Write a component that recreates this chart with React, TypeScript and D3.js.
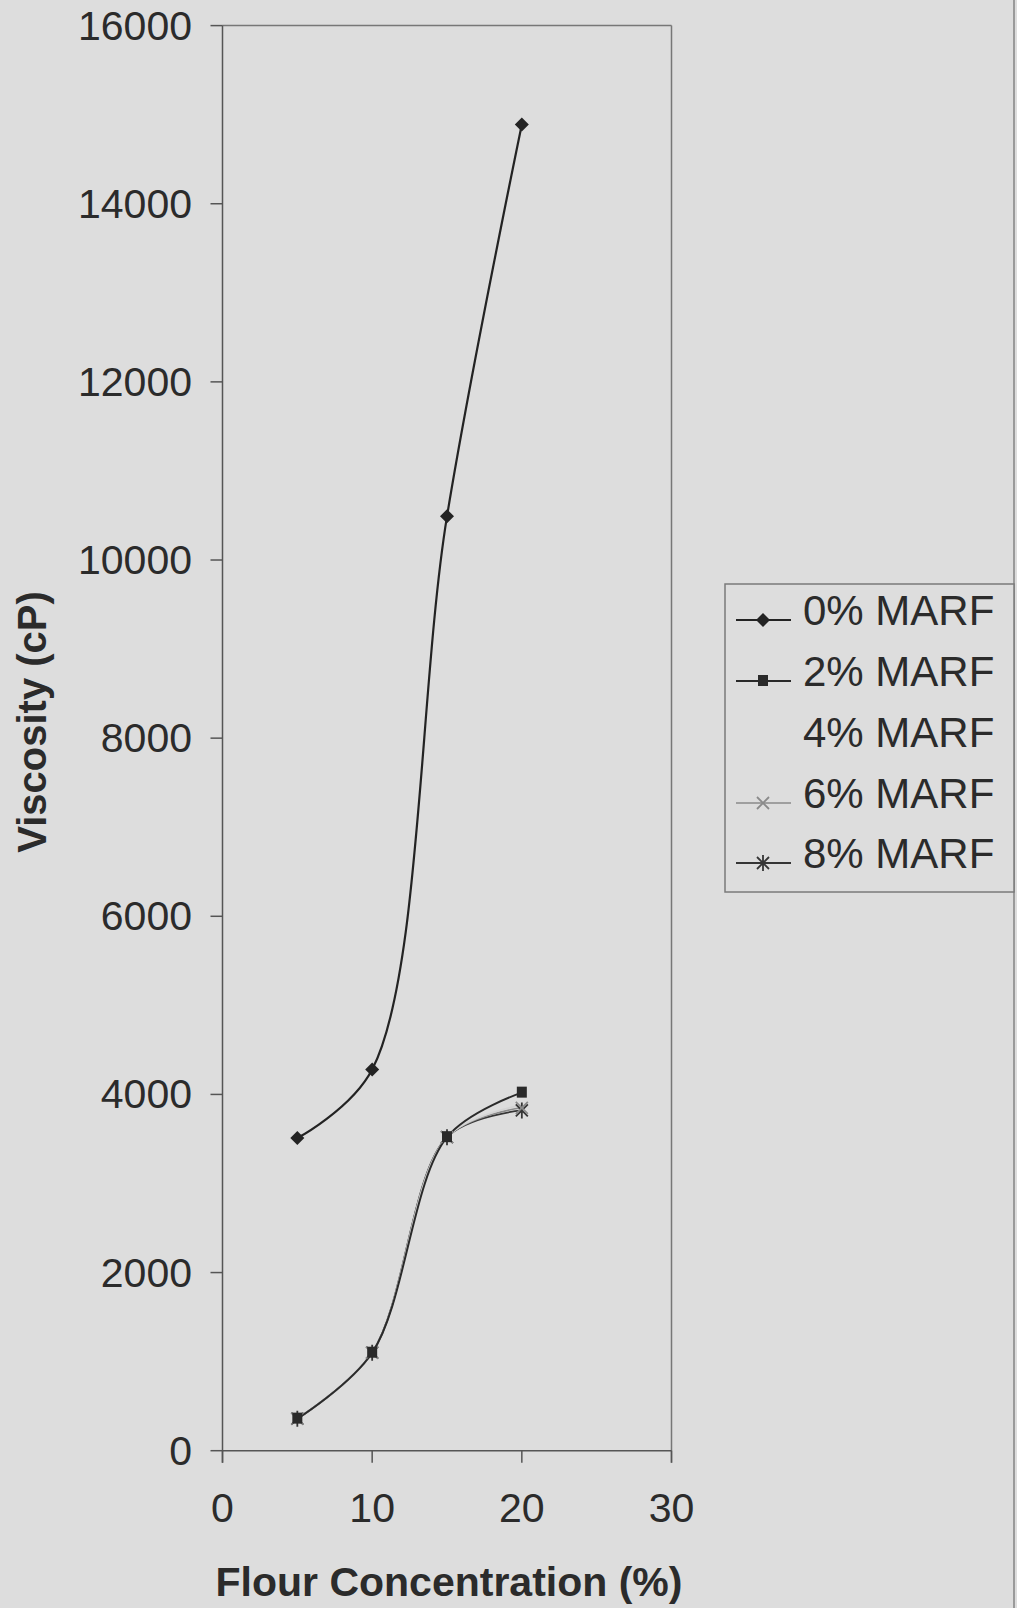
import React from "react";
import * as d3 from "d3";

const concentrations = [5, 10, 15, 20];
const seriesNames = ["0% MARF", "2% MARF", "4% MARF", "6% MARF", "8% MARF"];
const marf0 = [3510, 4280, 10490, 14890];
const marf2 = [360, 1100, 3520, 4020];
const marf4 = [360, 1100, 3520, 3880];
const marf6 = [360, 1100, 3520, 3850];
const marf8 = [360, 1100, 3520, 3820];
const xTicks = [0, 10, 20, 30];
const yTicks = [0, 2000, 4000, 6000, 8000, 10000, 12000, 14000, 16000];

const W = 1017;
const H = 1608;
const BG = "#dddddd";
const INK = "#2b2b2b";
const FONT = "'Liberation Sans', Arial, sans-serif";

type Marker = "diamond" | "square" | "none" | "cross" | "star";
const styles: { color: string; marker: Marker; width: number }[] = [
  { color: "#232323", marker: "diamond", width: 2.2 },
  { color: "#2a2a2a", marker: "square", width: 2 },
  { color: "#d4d4d4", marker: "none", width: 1.6 },
  { color: "#8a8a8a", marker: "cross", width: 1.6 },
  { color: "#353535", marker: "star", width: 1.8 },
];
const allSeries = [marf0, marf2, marf4, marf6, marf8];

function MarkerShape({ kind, x, y, color }: { kind: Marker; x: number; y: number; color: string }) {
  if (kind === "diamond")
    return <path d={`M${x},${y - 7}L${x + 7},${y}L${x},${y + 7}L${x - 7},${y}Z`} fill={color} />;
  if (kind === "square") return <rect x={x - 5} y={y - 6} width={10} height={11} fill={color} />;
  if (kind === "cross")
    return (
      <path
        d={`M${x - 6},${y - 6}L${x + 6},${y + 6}M${x - 6},${y + 6}L${x + 6},${y - 6}`}
        stroke={color}
        strokeWidth={1.8}
      />
    );
  if (kind === "star")
    return (
      <path
        d={`M${x - 6},${y - 6}L${x + 6},${y + 6}M${x - 6},${y + 6}L${x + 6},${y - 6}M${x},${y - 8}L${x},${y + 8}`}
        stroke={color}
        strokeWidth={1.8}
      />
    );
  return null;
}

export default function App() {
  const x = d3.scaleLinear().domain([0, 30]).range([222.5, 671.5]);
  const y = d3.scaleLinear().domain([0, 16000]).range([1450.7, 25.6]);
  const line = d3
    .line<number>()
    .x((_, i) => x(concentrations[i]))
    .y((d) => y(d))
    .curve(d3.curveCatmullRom.alpha(0.5));

  const legendRows = [625, 686, 747, 808, 868];

  return (
    <svg
      width={W}
      height={H}
      style={{ position: "absolute", left: 0, top: 0, display: "block" }}
      fontFamily={FONT}
    >
      <rect x={0} y={0} width={W} height={H} fill={BG} />
      <line x1={1014} x2={1014} y1={0} y2={H} stroke="#9a9a9a" strokeWidth={2} />

      {/* plot frame */}
      <g stroke="#555" strokeWidth={1.5} fill="none">
        <line x1={x(0)} x2={x(30)} y1={y(16000)} y2={y(16000)} stroke="#777" />
        <line x1={x(30)} x2={x(30)} y1={y(16000)} y2={y(0) + 12} stroke="#777" />
        <line x1={x(0)} x2={x(0)} y1={y(16000)} y2={y(0) + 12} />
        <line x1={x(0)} x2={x(30)} y1={y(0)} y2={y(0)} />
        {yTicks.map((t) => (
          <line key={t} x1={x(0) - 12} x2={x(0)} y1={y(t)} y2={y(t)} />
        ))}
        {xTicks.map((t) => (
          <line key={t} x1={x(t)} x2={x(t)} y1={y(0)} y2={y(0) + 12} />
        ))}
      </g>

      {/* tick labels */}
      <g fill={INK} fontSize={41}>
        {yTicks.map((t) => (
          <text key={t} x={192} y={y(t) + 14} textAnchor="end">
            {t}
          </text>
        ))}
        {xTicks.map((t) => (
          <text key={t} x={x(t)} y={1522} textAnchor="middle">
            {t}
          </text>
        ))}
      </g>

      {/* axis titles */}
      <text x={449} y={1596} textAnchor="middle" fontSize={41} fontWeight="bold" fill={INK}>
        Flour Concentration (%)
      </text>
      <text
        transform="translate(46,722) rotate(-90)"
        textAnchor="middle"
        fontSize={40}
        fontWeight="bold"
        fill={INK}
      >
        Viscosity (cP)
      </text>

      {/* series */}
      {[4, 3, 2, 1, 0].map((si) => (
        <path
          key={si}
          d={line(allSeries[si]) || ""}
          fill="none"
          stroke={styles[si].color}
          strokeWidth={styles[si].width}
        />
      ))}
      {[4, 3, 2, 1, 0].map((si) =>
        allSeries[si].map((v, i) => (
          <MarkerShape
            key={`${si}-${i}`}
            kind={styles[si].marker}
            x={x(concentrations[i])}
            y={y(v)}
            color={styles[si].color}
          />
        ))
      )}

      {/* legend */}
      <rect x={725} y={584} width={289} height={308} fill={BG} stroke="#7a7a7a" strokeWidth={1.5} />
      {seriesNames.map((name, i) => (
        <g key={name}>
          {styles[i].marker !== "none" && (
            <>
              <line
                x1={736}
                x2={791}
                y1={legendRows[i] - 5}
                y2={legendRows[i] - 5}
                stroke={styles[i].color}
                strokeWidth={styles[i].width}
              />
              <MarkerShape kind={styles[i].marker} x={763} y={legendRows[i] - 5} color={styles[i].color} />
            </>
          )}
          <text x={803} y={legendRows[i]} fontSize={42} fill={INK}>
            {name}
          </text>
        </g>
      ))}
    </svg>
  );
}
